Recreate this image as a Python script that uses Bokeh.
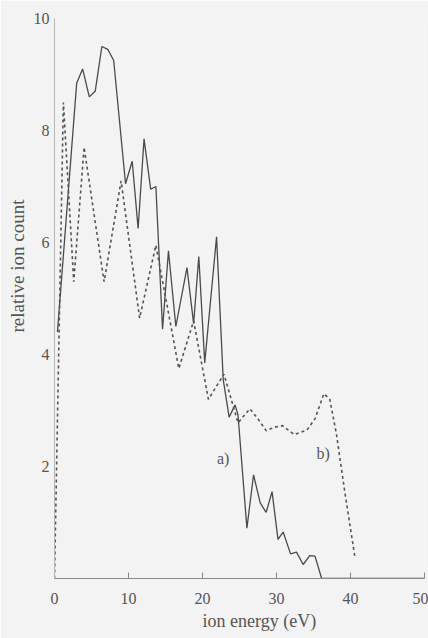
from bokeh.plotting import figure
from bokeh.models import Range1d, FixedTicker, Label, Title
from bokeh.embed import file_html
from bokeh.resources import INLINE

# ---- data ----
energy_a = [0.4, 3.0, 3.8, 4.7, 5.5, 6.4, 7.2, 8.0, 9.6, 10.5, 11.3, 12.1, 13.0, 13.7,
            14.6, 15.4, 16.4, 17.9, 18.8, 19.5, 20.3, 21.9, 22.8, 23.6, 24.4, 24.8,
            26.0, 26.9, 27.8, 28.6, 29.4, 30.2, 30.9, 31.9, 32.7, 33.6, 34.5, 35.2,
            36.1, 50.0]
count_a = [4.4, 8.85, 9.1, 8.6, 8.7, 9.5, 9.45, 9.25, 7.05, 7.45, 6.25, 7.85, 6.95, 7.0,
           4.45, 5.85, 4.5, 5.55, 4.55, 5.75, 3.85, 6.1, 3.55, 2.88, 3.1, 2.92,
           0.9, 1.85, 1.35, 1.18, 1.55, 0.7, 0.83, 0.44, 0.47, 0.25, 0.41, 0.4,
           0.0, 0.0]

energy_b = [0.0, 1.2, 2.6, 4.0, 6.7, 9.0, 11.5, 13.7, 16.8, 18.8, 20.8, 22.9, 24.8,
            26.4, 27.5, 28.6, 29.7, 30.8, 32.4, 34.1, 35.2, 36.4, 37.2, 38.1, 39.2, 40.6]
count_b = [0.0, 8.5, 5.3, 7.7, 5.3, 7.1, 4.65, 5.95, 3.75, 4.6, 3.2, 3.65, 2.78,
           3.03, 2.85, 2.64, 2.7, 2.73, 2.57, 2.65, 2.85, 3.3, 3.2, 2.58, 1.57, 0.38]

x_ticks = [0, 10, 20, 30, 40, 50]
y_ticks = [2, 4, 6, 8, 10]
series_labels = ["a)", "b)"]
label_pos_x = [22.8, 36.3]
label_pos_y = [2.14, 2.24]

SERIF = "Liberation Serif"
INK = "#4a4a4a"
TXT = "#555555"
BG = "#f3f3f3"

p = figure(width=428, height=638, x_range=Range1d(0, 50), y_range=Range1d(0, 10),
           output_backend="svg", toolbar_location=None,
           min_border_left=54, min_border_right=4, min_border_top=18, min_border_bottom=60)

p.xgrid.visible = False
p.ygrid.visible = False
p.outline_line_color = None
p.background_fill_color = BG
p.border_fill_color = BG

xa = p.xaxis[0]
xa.ticker = FixedTicker(ticks=x_ticks)
xa.major_tick_in = 6
xa.major_tick_out = 0
xa.minor_tick_line_color = None
xa.axis_line_color = "#8a8a8a"
xa.major_tick_line_color = "#8a8a8a"
xa.major_label_text_font = SERIF
xa.major_label_text_font_style = "normal"
xa.major_label_text_font_size = "16px"
xa.major_label_text_color = TXT
xa.major_label_standoff = 14

ya = p.yaxis[0]
ya.ticker = FixedTicker(ticks=y_ticks)
ya.major_tick_in = 0
ya.major_tick_out = 0
ya.minor_tick_line_color = None
ya.axis_line_color = "#b5b5b5"
ya.major_label_text_font = SERIF
ya.major_label_text_font_style = "normal"
ya.major_label_text_font_size = "16px"
ya.major_label_text_color = TXT
ya.major_label_standoff = 5

p.line(energy_a, count_a, line_color=INK, line_width=1.3)
p.line(energy_b, count_b, line_color=TXT, line_width=1.6, line_dash="3 3")

for t, lx, ly in zip(series_labels, label_pos_x, label_pos_y):
    p.add_layout(Label(x=lx, y=ly, text=t, text_align="center", text_baseline="middle",
                       text_font=SERIF, text_font_style="normal",
                       text_font_size="16px", text_color=TXT))

# axis titles (as side titles so they can be offset like the reference)
p.add_layout(Title(text="ion energy (eV)", align="left", offset=148, standoff=4,
                   text_font=SERIF, text_font_size="18px", text_font_style="normal",
                   text_color=TXT), "below")
p.add_layout(Title(text="relative ion count", align="left", offset=246, standoff=6,
                   text_font=SERIF, text_font_size="19px", text_font_style="normal",
                   text_color=TXT), "left")

open("out.html", "w").write(file_html(p, INLINE))
